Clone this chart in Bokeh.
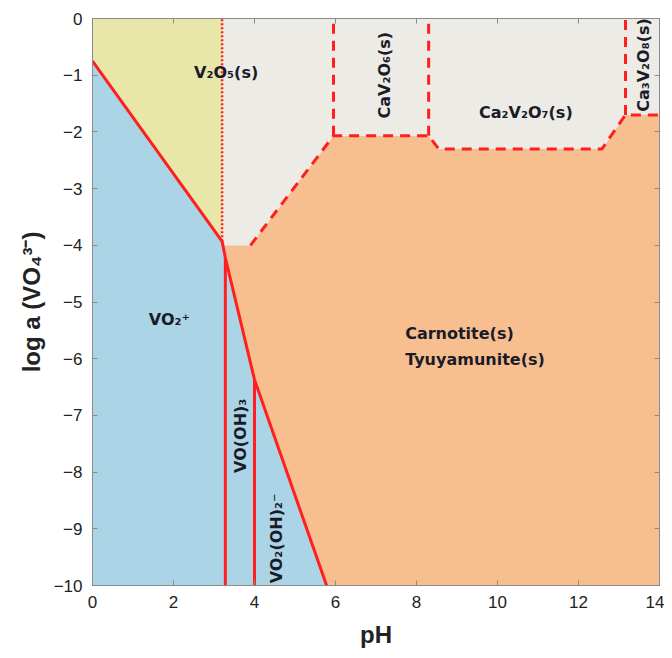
from bokeh.plotting import figure
from bokeh.models import LinearAxis, FixedTicker
from bokeh.core.properties import value
from bokeh.embed import file_html
from bokeh.resources import INLINE

# ---- data (pH, log a) ----
x_ticks = [0, 2, 4, 6, 8, 10, 12, 14]
y_ticks = [0, -1, -2, -3, -4, -5, -6, -7, -8, -9, -10]

# solid boundary: V2O5(s) / VO2+  then aqueous / Carnotite
solid_x = [0.0, 3.2, 3.28, 4.0, 5.78]
solid_y = [-0.75, -3.93, -4.22, -6.37, -10.0]

# dotted boundary inside V2O5 field
dot_x = [3.2, 3.2]
dot_y = [-3.93, 0.0]

# dashed lower boundary of the Ca-vanadate / V2O5 fields
dash_x = [3.2, 3.9, 5.95, 8.3, 8.55, 12.58, 13.16, 14.0]
dash_y = [-4.0, -4.0, -2.07, -2.07, -2.3, -2.3, -1.7, -1.7]

# dashed vertical separators (pH, bottom log a)
sep_x = [5.95, 8.3, 13.16]
sep_y = [-2.07, -2.07, -1.7]

# aqueous species boundaries (vertical)
aq_x = [3.28, 4.0]
aq_y = [-4.22, -6.37]

# labels
lab_text = ["V\u2082O\u2085(s)", "Ca\u2082V\u2082O\u2087(s)", "VO\u2082\u207a"]
lab_x = [3.3, 10.7, 1.9]
lab_y = [-0.95, -1.65, -5.3]

vlab_text = ["CaV\u2082O\u2086(s)", "Ca\u2083V\u2082O\u2088(s)", "VO(OH)\u2083", "VO\u2082(OH)\u2082\u207b"]
vlab_x = [7.2, 13.6, 3.65, 4.55]
vlab_y = [-1.0, -0.82, -7.36, -9.17]

carn_text = ["Carnotite(s)", "Tyuyamunite(s)"]
carn_x = [7.72, 7.72]
carn_y = [-5.55, -6.02]

# colours
c_yellow = "#e8e6a8"
c_gray = "#ecebe6"
c_blue = "#abd5e6"
c_orange = "#f7bf90"
c_red = "#ff1f1f"

x0, x1 = 0.0, 14.0
y0, y1 = -10.0, 0.0

p = figure(x_range=(x0, x1), y_range=(y0, y1),
           frame_width=567, frame_height=567,
           output_backend="svg", toolbar_location=None,
           min_border_left=92, min_border_top=18, min_border_right=5,
           min_border_bottom=10)
p.grid.visible = False
p.outline_line_color = "#8a8a8a"
p.background_fill_color = "white"
p.border_fill_color = "white"

# ---- regions ----
orange_x = solid_x[1:] + [x1, x1] + dash_x[::-1]
orange_y = solid_y[1:] + [y0, dash_y[-1]] + dash_y[::-1]
p.patch(orange_x, orange_y, fill_color=c_orange, line_color=None)

blue_x = solid_x + [x0]
blue_y = solid_y + [y0]
p.patch(blue_x, blue_y, fill_color=c_blue, line_color=None)

yel_x = [x0, x0, solid_x[1], dot_x[1]]
yel_y = [y1, solid_y[0], solid_y[1], dot_y[1]]
p.patch(yel_x, yel_y, fill_color=c_yellow, line_color=None)

gray_x = dash_x + [x1, dot_x[1]]
gray_y = dash_y + [y1, y1]
p.patch(gray_x, gray_y, fill_color=c_gray, line_color=None)

# ---- boundaries ----
p.line(solid_x, solid_y, line_color=c_red, line_width=3)
p.line(dot_x, dot_y, line_color=c_red, line_width=2.5, line_dash="2 2")
p.line(dash_x[1:], dash_y[1:], line_color=c_red, line_width=3, line_dash="10 7")
p.segment(x0=sep_x, y0=sep_y, x1=sep_x, y1=[y1] * len(sep_x),
          line_color=c_red, line_width=3, line_dash="10 7")
p.segment(x0=aq_x, y0=aq_y, x1=aq_x, y1=[y0] * len(aq_x),
          line_color=c_red, line_width=3)

# ---- labels ----
font = value("DejaVu Sans")
txt_col = "#1b1b28"
p.text(lab_x, lab_y, text=lab_text, text_font=font, text_font_style="bold",
       text_font_size="16px", text_color=txt_col,
       text_align="center", text_baseline="middle")
p.text(vlab_x, vlab_y, text=vlab_text, angle=1.5708, text_font=font,
       text_font_style="bold", text_font_size="16px", text_color=txt_col,
       text_align="center", text_baseline="middle")
p.text(carn_x, carn_y, text=carn_text, text_font=font, text_font_style="bold",
       text_font_size="16px", text_color=txt_col,
       text_align="left", text_baseline="middle")

# ---- axes ----
def fmt(v):
    return str(v).replace("-", "\u2212")

for ax, ticks in ((p.xaxis[0], x_ticks), (p.yaxis[0], y_ticks)):
    ax.ticker = FixedTicker(ticks=ticks)
    ax.major_label_overrides = {t: fmt(t) for t in ticks}
    ax.major_tick_in = 5
    ax.major_tick_out = 0
    ax.minor_tick_line_color = None
    ax.axis_line_color = "#8a8a8a"
    ax.major_tick_line_color = "#8a8a8a"
    ax.major_label_text_font = "Liberation Sans"
    ax.major_label_text_font_size = "17px"
    ax.major_label_text_color = "#222222"
    ax.axis_label_text_font = "Liberation Sans"
    ax.axis_label_text_font_style = "bold"
    ax.axis_label_text_font_size = "24px"
    ax.axis_label_text_color = "#222222"

p.xaxis[0].axis_label = "pH"
p.xaxis[0].major_label_standoff = 10
p.xaxis[0].axis_label_standoff = 10
p.yaxis[0].axis_label = "log a (VO\u2084\u00b3\u207b)"
p.yaxis[0].major_label_standoff = 10
p.yaxis[0].axis_label_standoff = 6

for loc, ticks in (("above", x_ticks), ("right", y_ticks)):
    a = LinearAxis(ticker=FixedTicker(ticks=ticks), major_tick_in=5, major_tick_out=0,
                   minor_tick_line_color=None, axis_line_color="#8a8a8a",
                   major_tick_line_color="#8a8a8a",
                   major_label_overrides={t: "" for t in ticks},
                   major_label_standoff=0)
    p.add_layout(a, loc)

open("out.html", "w").write(file_html(p, INLINE))
